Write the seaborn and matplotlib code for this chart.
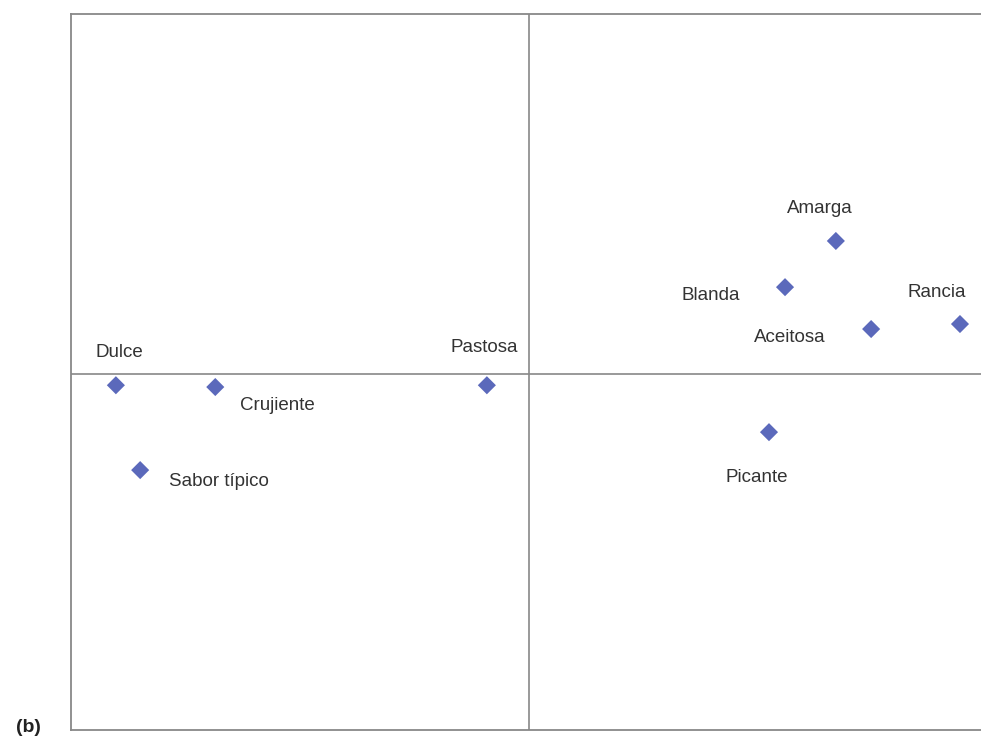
import matplotlib.pyplot as plt
import pandas as pd
import seaborn as sns

# atributos y coordenadas (dim 1, dim 2)
attributes = ["Dulce", "Crujiente", "Sabor típico", "Pastosa", "Amarga",
              "Blanda", "Aceitosa", "Rancia", "Picante"]
dim1 = [-0.902, -0.685, -0.849, -0.092, 0.670, 0.559, 0.747, 0.941, 0.524]
dim2 = [-0.031, -0.036, -0.268, -0.031, 0.372, 0.243, 0.126, 0.140, -0.162]

# desplazamiento de cada etiqueta respecto al punto (pixeles)
label_offsets = [(3, 33), (62, -18), (79, -11), (-3, 38), (-16, 32),
                 (-74, -8), (-81, -8), (-23, 32), (-12, -45)]

df = pd.DataFrame({"attr": attributes, "x": dim1, "y": dim2})

sns.set_style("white")
plt.rcParams["font.family"] = ["Liberation Sans", "DejaVu Sans"]

fig = plt.figure(figsize=(9.81, 7.38), dpi=100)
# el eje derecho queda cortado fuera de la figura, como en el original
ax = fig.add_axes([71 / 981, 8 / 738, 916 / 981, 716 / 738])

sns.scatterplot(data=df, x="x", y="y", marker="D", s=85, color="#5b69bb",
                edgecolor="none", ax=ax, zorder=3)

ax.axhline(0, color="#888888", lw=1.2, zorder=1)
ax.axvline(0, color="#888888", lw=1.2, zorder=1)

for name, x, y, off in zip(attributes, dim1, dim2, label_offsets):
    ax.annotate(name, (x, y), xytext=off, textcoords="offset pixels",
                ha="center", va="center", fontsize=13.5, color="#333333")

ax.set_xlim(-1, 1)
ax.set_ylim(-0.994, 1.006)
ax.set_xticks([])
ax.set_yticks([])
ax.set_xlabel("")
ax.set_ylabel("")
for side in ["left", "top", "bottom"]:
    ax.spines[side].set_color("#888888")
    ax.spines[side].set_linewidth(1.3)
ax.spines["right"].set_visible(False)

fig.text(28 / 981, 1 - 728 / 738, "(b)", fontsize=14, fontweight="bold",
         ha="center", va="center", color="#222222")

fig.savefig("out.png", dpi=100)
